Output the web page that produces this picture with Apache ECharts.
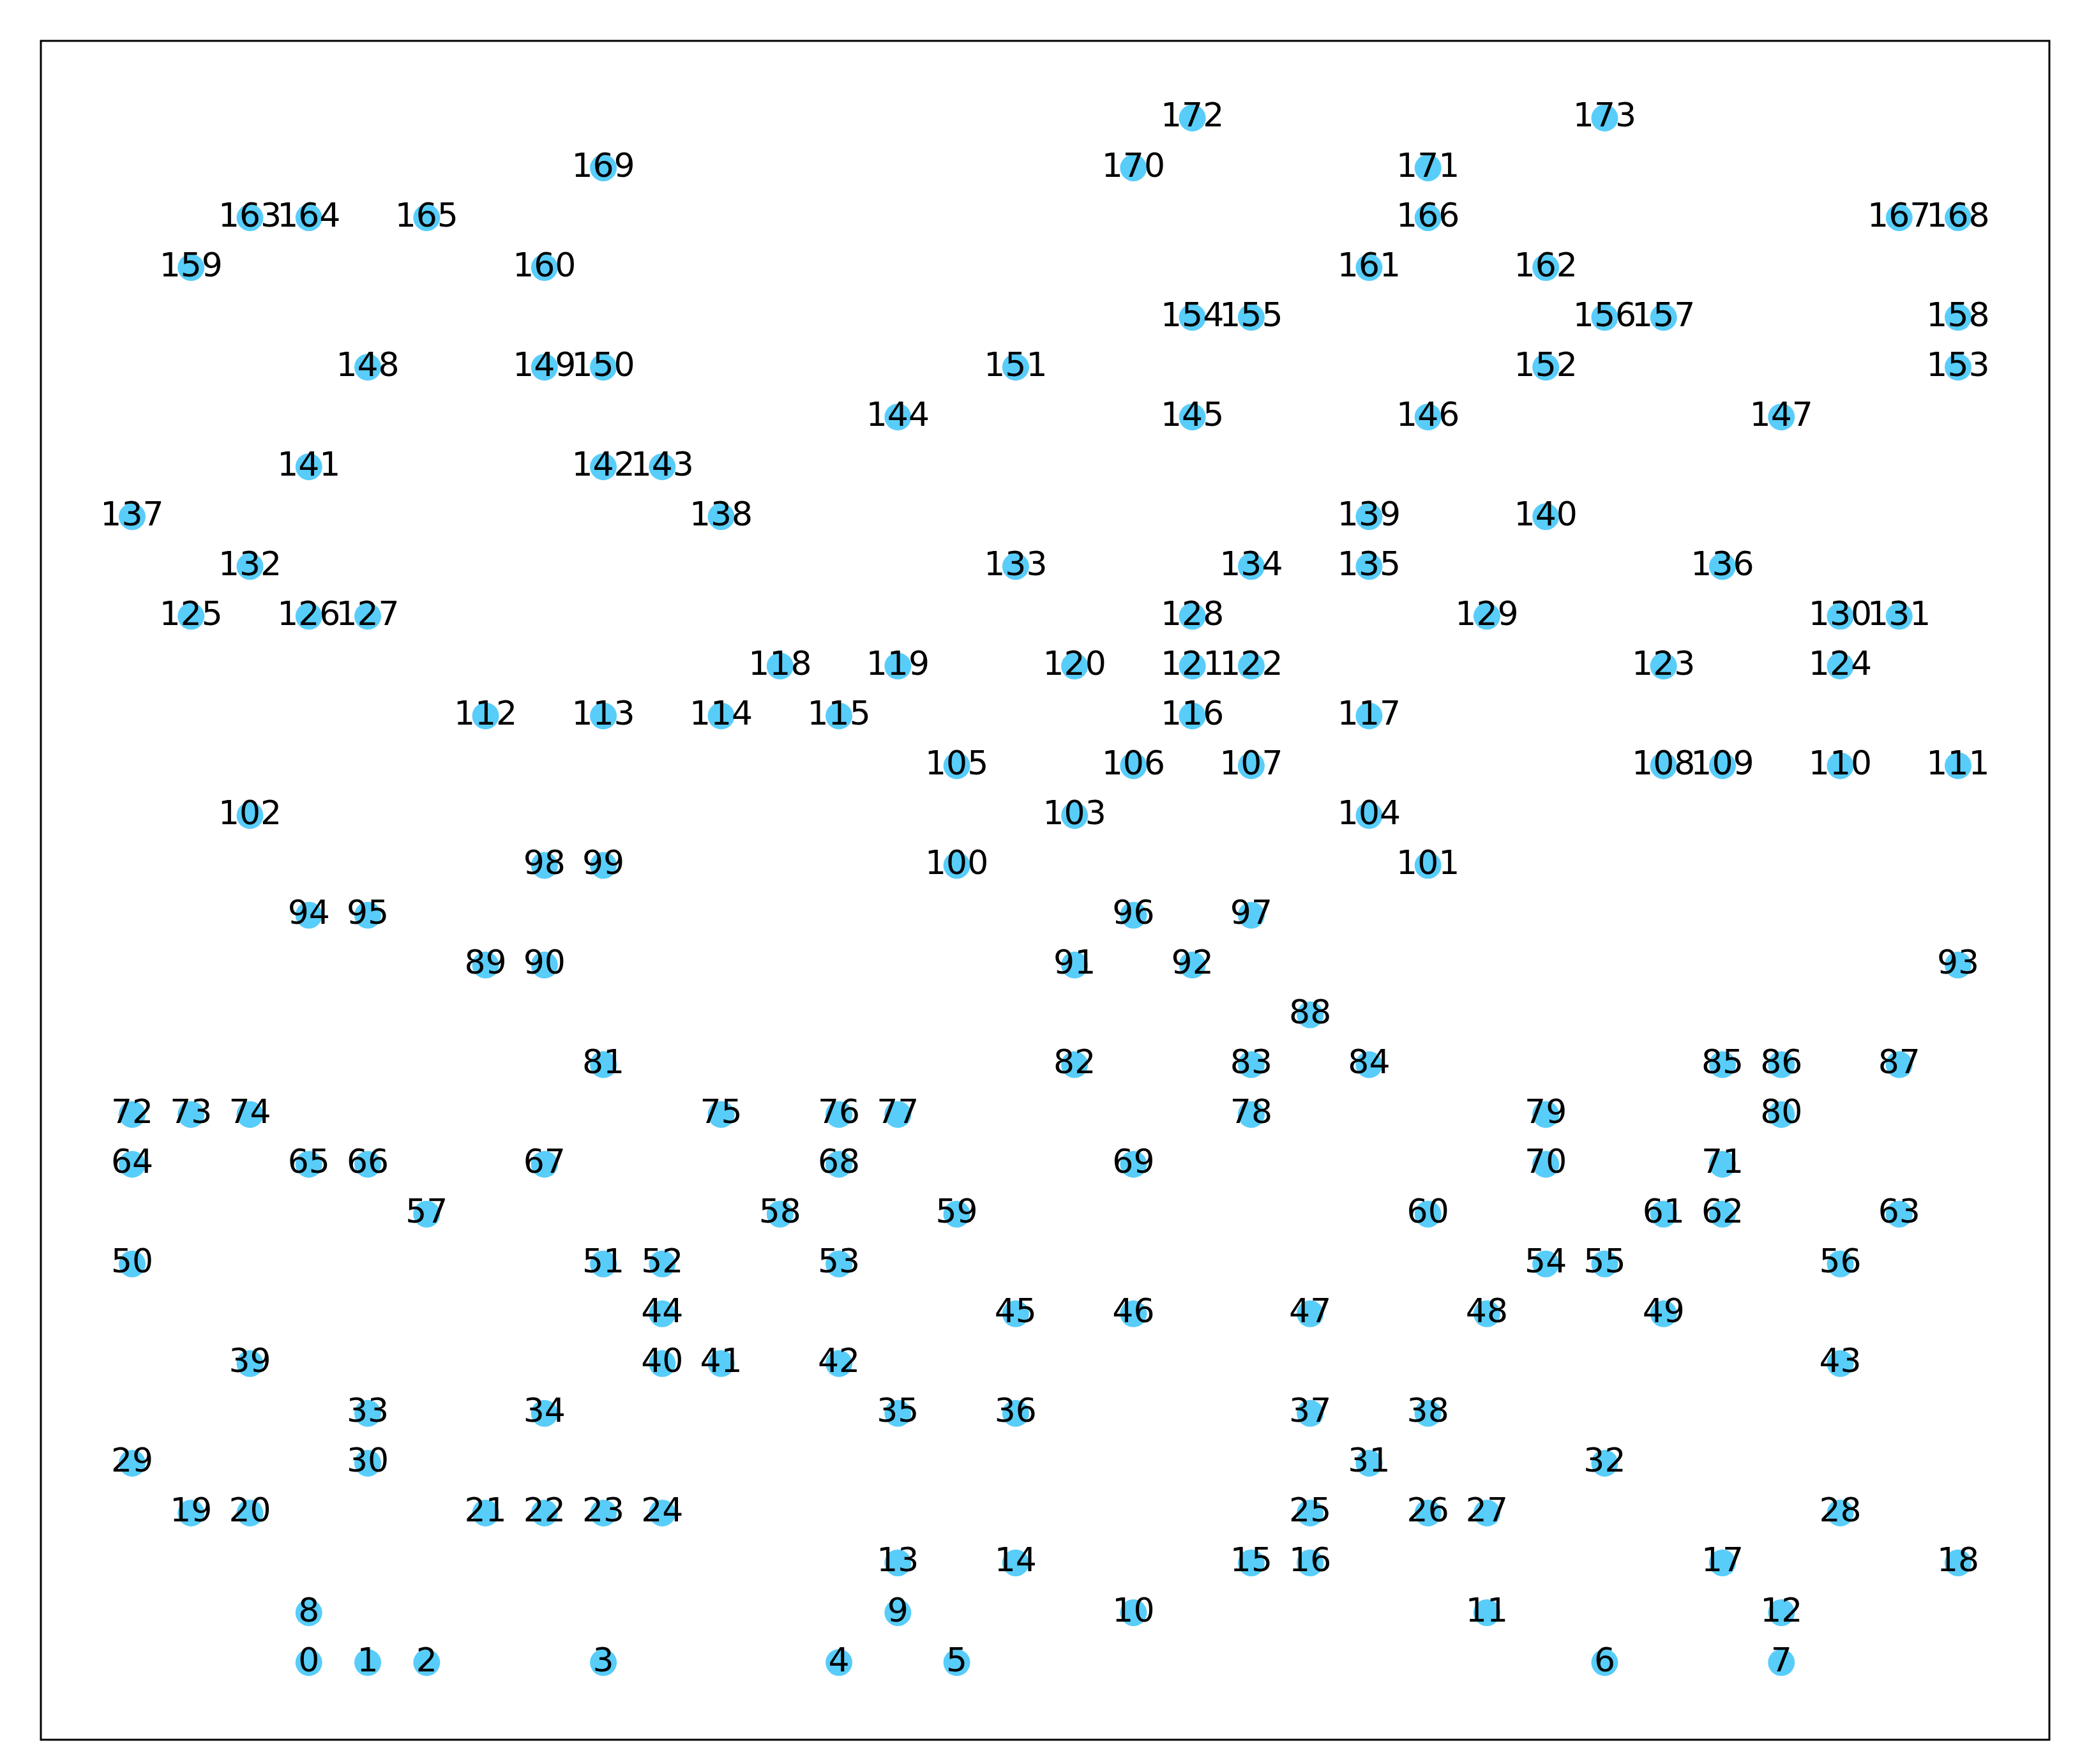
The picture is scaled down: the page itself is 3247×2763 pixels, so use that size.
<!DOCTYPE html>
<html>
<head>
    <meta charset="utf-8">
    <title>ECharts</title>
    <script src="https://cdn.jsdelivr.net/npm/echarts@6/dist/echarts.min.js"></script>
</head>
<body style="margin:0;background:#fff;">
    <div id="main" style="width:3247px;height:2763px;"></div>
    <script type="text/javascript">
    // grid position of every node, node i -> (nodeX[i], nodeY[i])
    var nodeX = [3,4,5,8,12,14,25,28,
        3,13,17,23,28,
        13,15,19,20,27,31,
        1,2,6,7,8,9,20,22,23,29,
        0,4,21,25,
        4,7,13,15,20,22,
        2,9,10,12,29,
        9,15,17,20,23,26,
        0,8,9,12,24,25,29,
        5,11,14,22,26,27,30,
        0,3,4,7,12,17,24,27,
        0,1,2,10,12,13,19,24,28,
        8,16,19,21,27,28,30,
        20,
        6,7,16,18,31,
        3,4,17,19,
        7,8,14,22,
        2,16,21,
        14,17,19,26,27,29,31,
        6,8,10,12,18,21,
        11,13,16,18,19,26,29,
        1,3,4,18,23,29,30,
        2,15,19,21,27,
        0,10,21,24,
        3,8,9,
        13,18,22,28,
        4,7,8,15,24,31,
        18,19,25,26,31,
        1,7,21,24,
        2,3,5,22,30,31,
        8,17,22,
        18,25];
    var nodeY = [0,0,0,0,0,0,0,0,
        1,1,1,1,1,
        2,2,2,2,2,2,
        3,3,3,3,3,3,3,3,3,3,
        4,4,4,4,
        5,5,5,5,5,5,
        6,6,6,6,6,
        7,7,7,7,7,7,
        8,8,8,8,8,8,8,
        9,9,9,9,9,9,9,
        10,10,10,10,10,10,10,10,
        11,11,11,11,11,11,11,11,11,
        12,12,12,12,12,12,12,
        13,
        14,14,14,14,14,
        15,15,15,15,
        16,16,16,16,
        17,17,17,
        18,18,18,18,18,18,18,
        19,19,19,19,19,19,
        20,20,20,20,20,20,20,
        21,21,21,21,21,21,21,
        22,22,22,22,22,
        23,23,23,23,
        24,24,24,
        25,25,25,25,
        26,26,26,26,26,26,
        27,27,27,27,27,
        28,28,28,28,
        29,29,29,29,29,29,
        30,30,30,
        31,31];

    var points = [];
    for (var i = 0; i < nodeX.length; i++) {
        points.push({ value: [nodeX[i], nodeY[i]], name: String(i) });
    }

    var myChart = echarts.init(document.getElementById('main'));

    var option = {
        backgroundColor: '#ffffff',
        animation: false,
        grid: {
            left: 64, top: 64, width: 3146, height: 2661,
            show: true,
            borderColor: '#000000',
            borderWidth: 3,
            backgroundColor: '#ffffff'
        },
        xAxis: {
            type: 'value', min: -1.55, max: 32.55,
            show: false
        },
        yAxis: {
            type: 'value', min: -1.55, max: 32.55,
            show: false
        },
        series: [{
            type: 'scatter',
            data: points,
            symbol: 'circle',
            symbolSize: 42,
            itemStyle: { color: '#58cdfa', opacity: 1 },
            label: {
                show: true,
                position: 'inside',
                formatter: '{b}',
                color: '#000000',
                fontFamily: 'DejaVu Sans',
                fontSize: 52
            },
            labelLayout: { hideOverlap: false }
        }]
    };

    myChart.setOption(option);
    </script>
</body>
</html>
